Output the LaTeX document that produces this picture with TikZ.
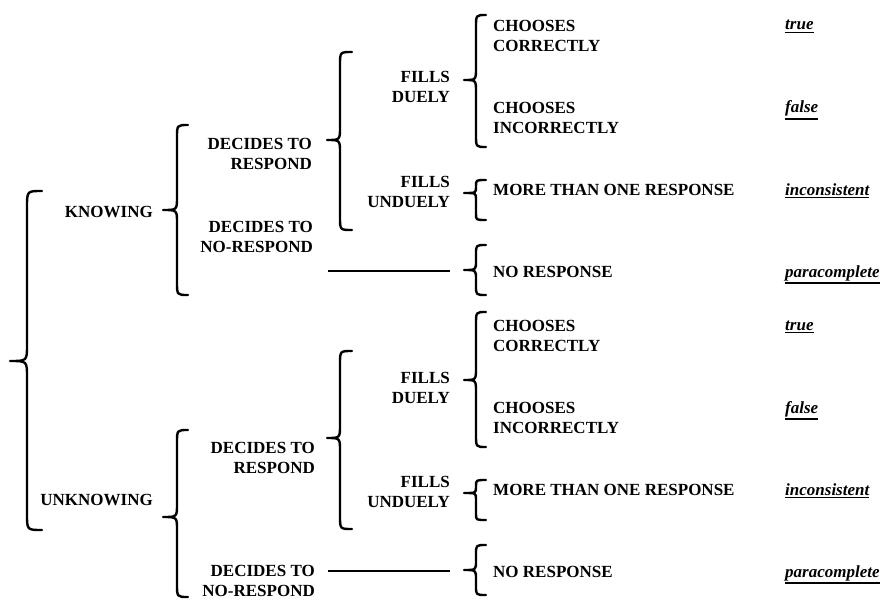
\documentclass[tikz,border=0pt]{standalone}
\usepackage{fontspec}
\setmainfont{Liberation Serif}
% underlined label with a heavy rule
\newcommand{\lbunder}[1]{\vtop{\hbox{#1}\kern1.4pt\hrule height 1.6pt}}
% curly brace: spine x, top y, tip y, bottom y, hook radius, tip depth, hook length
\newcommand{\curlybrace}[7]{%
  \draw[brc] ({#1+#7},#2) .. controls (#1,#2) .. (#1,{#2+#5})
    -- (#1,{#3-#5}) .. controls (#1,#3) .. ({#1-#6},#3)
    .. controls (#1,#3) .. (#1,{#3+#5})
    -- (#1,{#4-#5}) .. controls (#1,#4) .. ({#1+#7},#4);}
\begin{document}
\begin{tikzpicture}[x=1pt,y=-1pt,
  brc/.style={line width=2.4pt,line cap=round,line join=round},
  lbl/.style={inner sep=0pt,font=\fontsize{17}{20}\selectfont\bfseries},
  lblr/.style={lbl,align=right,anchor=east},
  lbll/.style={lbl,align=left,anchor=west},
  verdict/.style={inner sep=0pt,anchor=base west,font=\fontsize{17}{20}\selectfont\bfseries\itshape},
  link/.style={line width=2.4pt}]
\useasboundingbox (0,0) rectangle (882,599);

% first level
\curlybrace{27}{191}{361}{530}{16}{17}{15}
\node[lblr] (kn) at (153,212) {KNOWING};
\node[lblr] (unkn) at (153,500) {UNKNOWING};

% second level
\curlybrace{177}{125}{210}{295}{13}{14}{11}
\curlybrace{177}{430}{517}{597}{13}{14}{11}
\node[lblr] (dr1) at (312,154) {DECIDES TO\\RESPOND};
\node[lblr] (dn1) at (313,237) {DECIDES TO\\NO-RESPOND};
\node[lblr] (dr2) at (315,458) {DECIDES TO\\RESPOND};
\node[lblr] (dn2) at (315,581) {DECIDES TO\\NO-RESPOND};

% third level
\curlybrace{340}{52}{140}{230}{13}{13}{12}
\curlybrace{340}{351}{438}{529}{13}{13}{12}
\node[lblr] (fd1) at (450,87) {FILLS\\DUELY};
\node[lblr] (fu1) at (450,192) {FILLS\\UNDUELY};
\node[lblr] (fd2) at (450,388) {FILLS\\DUELY};
\node[lblr] (fu2) at (450,492) {FILLS\\UNDUELY};

% no-response links
\coordinate (l1a) at (328,271);
\coordinate (l1b) at (450,271);
\coordinate (l2a) at (328,571);
\coordinate (l2b) at (450,571);
\draw[link] (l1a) -- (l1b);
\draw[link] (l2a) -- (l2b);

% fourth level
\curlybrace{476}{15}{80}{147}{12}{12}{10}
\curlybrace{476}{180}{193}{220}{6}{12}{10}
\curlybrace{476}{245}{270}{295}{9}{12}{10}
\curlybrace{476}{312}{380}{447}{12}{12}{10}
\curlybrace{476}{480}{493}{520}{6}{12}{10}
\curlybrace{476}{545}{570}{595}{9}{12}{10}

\node[lbll] (cc1) at (493,36) {CHOOSES\\CORRECTLY};
\node[lbll] (ci1) at (493,118) {CHOOSES\\INCORRECTLY};
\node[lbll] (mr1) at (493,190) {MORE THAN ONE RESPONSE};
\node[lbll] (nr1) at (493,272) {NO RESPONSE};
\node[lbll] (cc2) at (493,336) {CHOOSES\\CORRECTLY};
\node[lbll] (ci2) at (493,418) {CHOOSES\\INCORRECTLY};
\node[lbll] (mr2) at (493,490) {MORE THAN ONE RESPONSE};
\node[lbll] (nr2) at (493,572) {NO RESPONSE};

% truth values
\node[verdict] (v1) at (785,30) {\lbunder{true}};
\node[verdict] (v2) at (785,113) {\lbunder{false}};
\node[verdict] (v3) at (785,195) {\lbunder{inconsistent}};
\node[verdict] (v4) at (785,277) {\lbunder{paracomplete}};
\node[verdict] (v5) at (785,330) {\lbunder{true}};
\node[verdict] (v6) at (785,413) {\lbunder{false}};
\node[verdict] (v7) at (785,495) {\lbunder{inconsistent}};
\node[verdict] (v8) at (785,577) {\lbunder{paracomplete}};
\end{tikzpicture}
\end{document}
